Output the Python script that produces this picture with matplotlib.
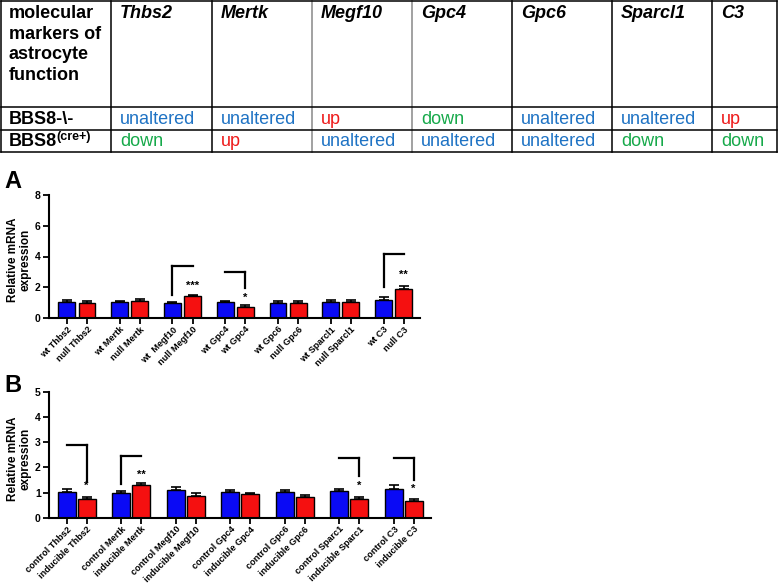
import matplotlib
matplotlib.use('Agg')
import matplotlib.pyplot as plt
import numpy as np

plt.rcParams['font.family'] = ['Liberation Sans', 'DejaVu Sans']

# table
genes = ['Thbs2', 'Mertk', 'Megf10', 'Gpc4', 'Gpc6', 'Sparcl1', 'C3']
header_label = 'molecular\nmarkers of\nastrocyte\nfunction'
status_null = ['unaltered', 'unaltered', 'up', 'down', 'unaltered', 'unaltered', 'up']
status_cre = ['down', 'up', 'unaltered', 'unaltered', 'unaltered', 'down', 'down']
status_colors = {'unaltered': '#1f73c4', 'up': '#ee1c1c', 'down': '#16a94a'}

# panel A: BBS8 null vs wt
labels_a = ['wt Thbs2', 'null Thbs2', 'wt Mertk', 'null Mertk', 'wt  Megf10', 'null Megf10',
            'wt Gpc4', 'wt Gpc4', 'wt Gpc6', 'null Gpc6', 'wt Sparcl1', 'null Sparcl1',
            'wt C3', 'null C3']
wt_a = [1.05, 1.03, 1.00, 1.03, 1.00, 1.03, 1.14]
wt_a_err = [0.12, 0.08, 0.05, 0.07, 0.08, 0.13, 0.20]
null_a = [0.95, 1.12, 1.42, 0.73, 0.99, 1.07, 1.89]
null_a_err = [0.17, 0.10, 0.10, 0.10, 0.12, 0.10, 0.21]

# panel B: inducible BBS8 vs control
labels_b = ['control Thbs2', 'inducible Thbs2', 'control Mertk', 'inducible Mertk',
            'control Megf10', 'inducible Megf10', 'control Gpc4', 'inducible Gpc4',
            'control Gpc6', 'inducible Gpc6', 'control Sparc1', 'inducible Sparc1',
            'control C3', 'inducible C3']
ctrl_b = [1.03, 0.98, 1.08, 1.03, 1.03, 1.06, 1.12]
ctrl_b_err = [0.09, 0.06, 0.12, 0.06, 0.05, 0.09, 0.16]
ind_b = [0.74, 1.30, 0.87, 0.93, 0.81, 0.73, 0.67]
ind_b_err = [0.07, 0.06, 0.12, 0.05, 0.08, 0.08, 0.09]

# significance brackets: (pair, top, bottom, side of vertical, stars, star height)
brackets_a = [(2, 3.4, 1.5, 'left', '***', 1.75),
              (3, 2.98, 1.95, 'right', '*', 1.0),
              (6, 4.15, 2.0, 'left', '**', 2.45)]
brackets_b = [(0, 2.9, 1.43, 'right', '*', 1.05),
              (1, 2.46, 1.34, 'left', '**', 1.5),
              (5, 2.35, 1.67, 'right', '*', 1.05),
              (6, 2.35, 1.5, 'right', '*', 0.95)]

W, H = 778, 584
fig = plt.figure(figsize=(W / 100, H / 100), dpi=100)

# ---- table drawn in pixel coordinates ----
tax = fig.add_axes([0, 0, 1, 1])
tax.set_xlim(0, W)
tax.set_ylim(H, 0)
tax.axis('off')

col_x = [1, 111, 212, 312, 412, 512, 612, 712, 777]
row_y = [1, 107, 130, 152]
for x in col_x:
    c = '#888888' if x in (312, 412) else 'black'
    tax.plot([x, x], [row_y[0], row_y[-1]], color=c, lw=1.1)
for y in row_y:
    tax.plot([col_x[0], col_x[-1]], [y, y], color='black', lw=1.1)

tax.text(9, 5, header_label, fontsize=13, fontweight='bold', va='top', ha='left',
         linespacing=1.27)
for i, g in enumerate(genes):
    tax.text(col_x[i + 1] + 9, 5, g, fontsize=13, fontweight='bold', fontstyle='italic',
             va='top', ha='left')

tax.text(9, 119, 'BBS8-\\-', fontsize=13, fontweight='bold', va='center', ha='left')
tax.text(9, 142, 'BBS8', fontsize=13, fontweight='bold', va='center', ha='left')
tax.text(56, 137, '(cre+)', fontsize=9, fontweight='bold', va='center', ha='left')
for i in range(len(genes)):
    tax.text(col_x[i + 1] + 9, 119, status_null[i], fontsize=13,
             color=status_colors[status_null[i]], va='center', ha='left')
    tax.text(col_x[i + 1] + 9, 141, status_cre[i], fontsize=13,
             color=status_colors[status_cre[i]], va='center', ha='left')


def bar_panel(rect, ctrl, ctrl_err, treat, treat_err, labels, ymax, yticks,
              xlim, off, width, brackets, label_x):
    ax = fig.add_axes(rect)
    idx = np.arange(len(ctrl))
    ax.bar(idx - off, ctrl, width, color='#0a0af5', edgecolor='black', lw=1,
           yerr=[np.zeros(len(ctrl)), ctrl_err], capsize=3.5,
           error_kw=dict(elinewidth=1.2, capthick=1.2))
    ax.bar(idx + off, treat, width, color='#f51010', edgecolor='black', lw=1,
           yerr=[np.zeros(len(treat)), treat_err], capsize=3.5,
           error_kw=dict(elinewidth=1.2, capthick=1.2))
    ax.set_xlim(*xlim)
    ax.set_ylim(0, ymax)
    ax.set_yticks(yticks)
    pos = np.ravel(np.column_stack([idx - off, idx + off]))
    ax.set_xticks(pos)
    ax.set_xticklabels(labels, rotation=45, ha='right', rotation_mode='anchor',
                       fontsize=6.6, fontweight='bold')
    for t in ax.get_yticklabels():
        t.set_fontweight('bold')
        t.set_fontsize(7.5)
    ax.tick_params(axis='both', width=1.3, length=4, pad=2)
    ax.tick_params(axis='x', pad=1)
    for s in ['top', 'right']:
        ax.spines[s].set_visible(False)
    for s in ['left', 'bottom']:
        ax.spines[s].set_linewidth(1.5)
    ax.set_ylabel('Relative mRNA\nexpression', fontsize=8.5, fontweight='bold',
                  linespacing=1.05)
    ax.yaxis.set_label_coords(label_x, 0.47)
    ax.patch.set_alpha(0)
    for pair, top, bottom, side, stars, sy in brackets:
        xb, xr = pair - off, pair + off
        xv = xb if side == 'left' else xr
        ax.plot([xb, xr], [top, top], color='black', lw=1.6, clip_on=False)
        ax.plot([xv, xv], [top, bottom], color='black', lw=1.6, clip_on=False)
        ax.text(xr, sy, stars, ha='center', va='bottom', fontsize=8, fontweight='bold')
    return ax


axA = bar_panel([49 / W, (H - 318) / H, 371 / W, 123 / H], wt_a, wt_a_err, null_a,
                null_a_err, labels_a, 8, [0, 2, 4, 6, 8], (-0.53, 6.5), 0.19, 0.32,
                brackets_a, -0.048)
axB = bar_panel([49 / W, (H - 517.7) / H, 382 / W, 126 / H], ctrl_b, ctrl_b_err, ind_b,
                ind_b_err, labels_b, 5, [0, 1, 2, 3, 4, 5], (-0.51, 6.5), 0.18, 0.33,
                brackets_b, -0.045)

tax.text(4, 182, 'A', fontsize=17, fontweight='bold', va='center', ha='left')
tax.text(4, 385, 'B', fontsize=17, fontweight='bold', va='center', ha='left')

fig.savefig('out.png', dpi=100)
